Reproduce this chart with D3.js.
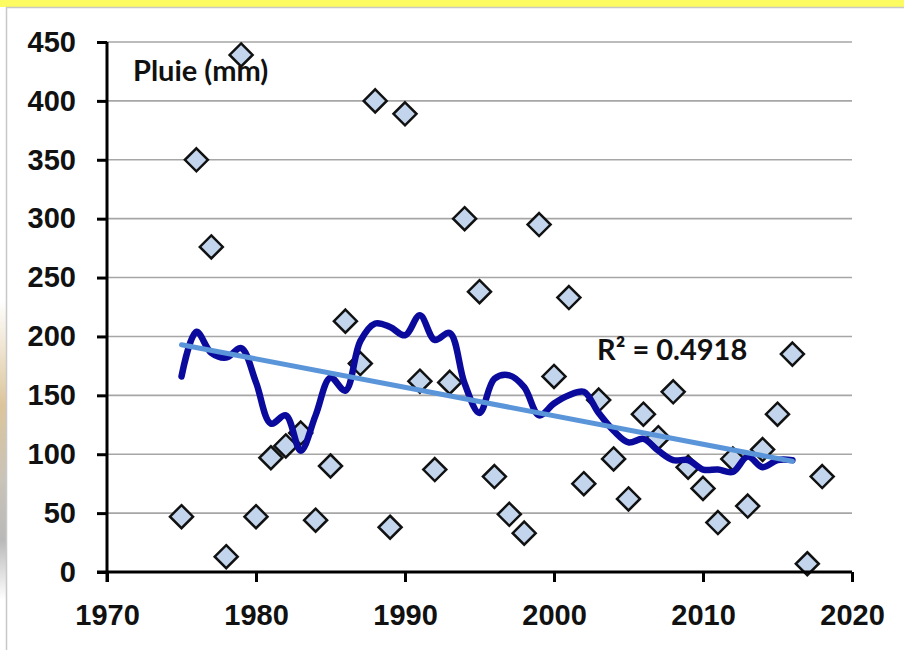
<!DOCTYPE html>
<html lang="fr">
<head>
    <meta charset="UTF-8">
    <title>Pluie (mm)</title>
    <script src="https://d3js.org/d3.v7.min.js"></script>
    <style>
        body {
            margin: 0;
            background: #fff;
            font-family: Lato, "Open Sans", Arial, sans-serif;
        }
        .axis text {
            font-size: 29px;
            font-weight: 700;
            fill: #111;
        }
        .axis path, .axis line {
            stroke: #000;
            stroke-width: 3;
        }
        .grid line {
            stroke: #a6a6a6;
            stroke-width: 1.6;
        }
        .label {
            font-size: 29px;
            font-weight: 700;
            fill: #111;
        }
    </style>
</head>
<body>
    <div id="chart"></div>
    <script>
        // annual rainfall
        const years = d3.range(1975, 2019);
        const rain = [47, 350, 276, 13, 439, 47, 97, 107, 118, 44,
                      90, 213, 177, 400, 38, 389, 162, 87, 161, 300,
                      238, 81, 49, 33, 295, 166, 233, 75, 146, 96,
                      62, 134, 114, 153, 89, 71, 42, 96, 56, 104,
                      134, 185, 7, 81];

        // dark smoothed line (1975 - 2016)
        const avgYears = d3.range(1975, 2017);
        const avgValues = [166, 204, 186, 182, 190, 161, 126, 133, 103, 133,
                           165, 154, 196, 211, 208, 201, 218, 197, 203, 160,
                           135, 164, 167, 157, 133, 143, 150, 153, 135, 120,
                           110, 113, 103, 95, 95, 87, 87, 85, 98, 89,
                           95, 95];

        // linear trend endpoints
        const trendYears = [1975, 2016];
        const trendValues = [193, 94];

        const xTicks = [1970, 1980, 1990, 2000, 2010, 2020];
        const yTicks = [0, 50, 100, 150, 200, 250, 300, 350, 400, 450];

        const W = 904, H = 650;
        const margin = { top: 42, right: 52, bottom: 78, left: 107 };
        const width = W - margin.left - margin.right;
        const height = H - margin.top - margin.bottom;

        const svg = d3.select("#chart").append("svg")
            .attr("width", W)
            .attr("height", H);

        // left edge decoration + yellow band + frame
        const grad = svg.append("defs").append("linearGradient")
            .attr("id", "edge").attr("x1", 0).attr("y1", 0).attr("x2", 0).attr("y2", 1);
        grad.append("stop").attr("offset", "0%").attr("stop-color", "#fff");
        grad.append("stop").attr("offset", "35%").attr("stop-color", "#dcc59b");
        grad.append("stop").attr("offset", "60%").attr("stop-color", "#c9c3b8");
        grad.append("stop").attr("offset", "80%").attr("stop-color", "#b9b9b9");
        grad.append("stop").attr("offset", "100%").attr("stop-color", "#fff");
        svg.append("rect").attr("x", 0).attr("y", 300).attr("width", 6).attr("height", 300)
            .attr("fill", "url(#edge)");

        svg.append("rect").attr("x", 0).attr("y", 0).attr("width", W).attr("height", 7)
            .attr("fill", "#fdfb62");
        svg.append("line").attr("x1", 6).attr("x2", W).attr("y1", 7.5).attr("y2", 7.5)
            .attr("stroke", "#c8c8c8").attr("stroke-width", 1.5);
        svg.append("line").attr("x1", 6.5).attr("x2", 6.5).attr("y1", 7).attr("y2", H)
            .attr("stroke", "#c8c8c8").attr("stroke-width", 1.5);

        const g = svg.append("g")
            .attr("transform", `translate(${margin.left},${margin.top})`);

        const x = d3.scaleLinear().domain([1970, 2020]).range([0, width]);
        const y = d3.scaleLinear().domain([0, 450]).range([height, 0]);

        // gridlines
        g.append("g").attr("class", "grid")
            .selectAll("line")
            .data(yTicks.filter(d => d > 0))
            .enter().append("line")
            .attr("x1", 0).attr("x2", width)
            .attr("y1", d => y(d)).attr("y2", d => y(d));

        // points
        const r = 11.5;
        g.append("g").selectAll("path")
            .data(years.map((yr, i) => [yr, rain[i]]))
            .enter().append("path")
            .attr("d", `M0,${-r}L${r},0L0,${r}L${-r},0Z`)
            .attr("transform", d => `translate(${x(d[0])},${y(d[1])})`)
            .attr("fill", "#c2d5ec")
            .attr("stroke", "#111")
            .attr("stroke-width", 2.5)
            .attr("stroke-linejoin", "miter");

        // smoothed line
        const smooth = d3.line()
            .x(d => x(d[0]))
            .y(d => y(d[1]))
            .curve(d3.curveCatmullRom.alpha(0.5));
        g.append("path")
            .datum(avgYears.map((yr, i) => [yr, avgValues[i]]))
            .attr("fill", "none")
            .attr("stroke", "#0a0a9c")
            .attr("stroke-width", 6.5)
            .attr("stroke-linecap", "round")
            .attr("stroke-linejoin", "round")
            .attr("d", smooth);

        // trend line
        g.append("path")
            .datum(trendYears.map((yr, i) => [yr, trendValues[i]]))
            .attr("fill", "none")
            .attr("stroke", "#5b95d9")
            .attr("stroke-width", 5)
            .attr("stroke-linecap", "round")
            .attr("d", d3.line().x(d => x(d[0])).y(d => y(d[1])));

        // axes
        g.append("g").attr("class", "axis")
            .call(d3.axisLeft(y).tickValues(yTicks).tickSize(10).tickPadding(21).tickSizeOuter(0))
            .call(a => a.select(".domain").attr("d", `M0,${height + 10}V0`));

        g.append("g").attr("class", "axis")
            .attr("transform", `translate(0,${height})`)
            .call(d3.axisBottom(x).tickValues(xTicks).tickFormat(d3.format("d"))
                .tickSize(10).tickPadding(22).tickSizeOuter(0))
            .call(a => a.select(".domain").attr("d", `M-10,0H${width}`));

        // labels
        g.append("text").attr("class", "label")
            .attr("x", 26).attr("y", 39)
            .text("Pluie (mm)");

        g.append("text").attr("class", "label")
            .attr("x", 490).attr("y", 318)
            .text("R² = 0.4918");
    </script>
</body>
</html>
